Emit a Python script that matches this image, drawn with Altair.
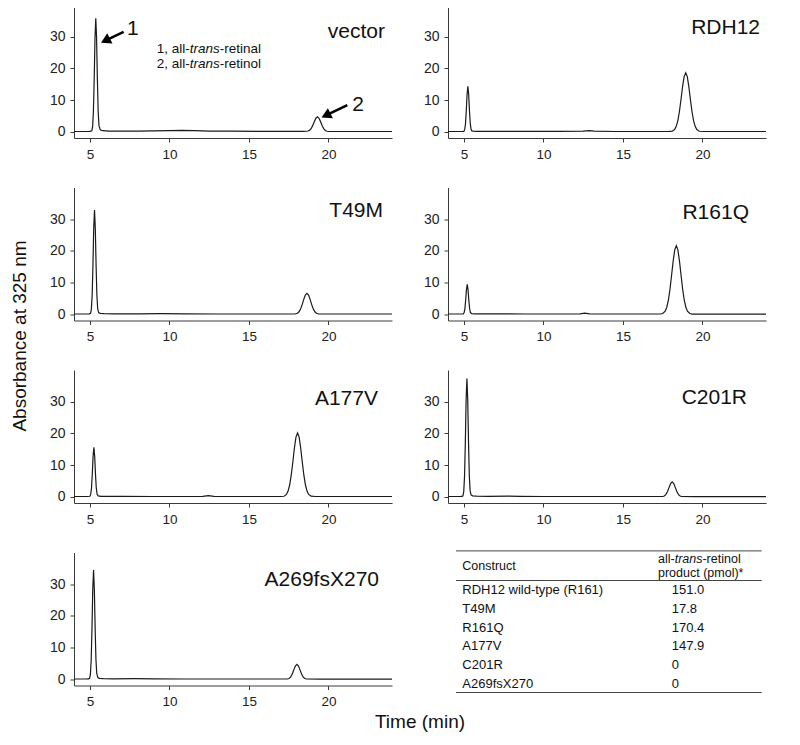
import altair as alt
import pandas as pd

FONT = "Liberation Sans, Arial, Helvetica, sans-serif"
W, H = 318, 133
X_DOMAIN = [4, 24]
Y_DOMAIN = [-2, 40]
X_TICKS = [5, 10, 15, 20]
Y_TICKS = [0, 10, 20, 30]

PANELS = ["vector", "RDH12", "T49M", "R161Q", "A177V", "C201R", "A269fsX270"]

# (time min, absorbance)
TRACE_VECTOR = [
    (4.0, 0.05), (4.6, 0.05), (5.0, 0.08), (5.12, 0.3), (5.17, 1.6), (5.22, 6.2), (5.27, 16.4),
    (5.32, 29.5), (5.37, 35.8), (5.42, 29.5), (5.47, 16.6), (5.52, 6.5), (5.57, 1.9), (5.65, 0.6),
    (5.8, 0.3), (6.2, 0.2), (7.0, 0.15), (8.0, 0.2), (9.0, 0.25), (10.0, 0.3), (10.8, 0.4),
    (11.6, 0.3), (12.5, 0.2), (14.0, 0.15), (16.0, 0.1), (17.5, 0.1), (18.4, 0.1), (18.6, 0.13),
    (18.71, 0.2), (18.81, 0.4), (18.91, 0.95), (19.01, 1.9), (19.11, 3.15), (19.21, 4.25),
    (19.31, 4.7), (19.41, 4.24), (19.51, 3.11), (19.61, 1.86), (19.71, 0.9), (19.81, 0.36),
    (19.91, 0.13), (20.01, 0.05), (20.3, 0.05), (21.5, 0.05), (23.0, 0.05), (24.0, 0.05),
]
TRACE_RDH12 = [
    (4.0, 0.05), (4.6, 0.05), (5.0, 0.11), (5.05, 0.63), (5.10, 2.5), (5.15, 6.5), (5.20, 11.8),
    (5.25, 14.3), (5.30, 11.8), (5.35, 6.6), (5.40, 2.6), (5.45, 0.75), (5.50, 0.25), (5.6, 0.15),
    (5.8, 0.1), (6.5, 0.08), (9.0, 0.1), (11.0, 0.1), (12.5, 0.15), (12.9, 0.3), (13.2, 0.15),
    (14.5, 0.05), (17.0, 0.05), (17.9, 0.07), (18.1, 0.13), (18.25, 0.65), (18.35, 1.6),
    (18.45, 3.35), (18.55, 6.2), (18.65, 10.0), (18.75, 14.1), (18.85, 17.4), (18.95, 18.6),
    (19.05, 17.4), (19.15, 14.1), (19.25, 10.0), (19.35, 6.2), (19.45, 3.35), (19.55, 1.6),
    (19.65, 0.65), (19.8, 0.13), (20.1, 0.05), (22.0, 0.05), (24.0, 0.05),
]
TRACE_T49M = [
    (4.0, 0.05), (4.7, 0.05), (4.95, 0.08), (5.04, 0.25), (5.09, 1.45), (5.14, 5.7), (5.19, 15.1),
    (5.24, 27.1), (5.29, 32.9), (5.34, 27.1), (5.39, 15.3), (5.44, 6.0), (5.49, 1.7), (5.55, 0.5),
    (5.65, 0.25), (5.9, 0.15), (6.5, 0.1), (8.0, 0.12), (9.5, 0.15), (11.0, 0.1), (13.0, 0.05),
    (15.0, 0.05), (17.0, 0.05), (17.9, 0.05), (18.05, 0.29), (18.15, 0.75), (18.25, 1.64),
    (18.35, 3.02), (18.45, 4.67), (18.55, 6.05), (18.65, 6.6), (18.75, 6.05), (18.85, 4.67),
    (18.95, 3.02), (19.05, 1.64), (19.15, 0.75), (19.25, 0.29), (19.4, 0.05), (20.0, 0.05),
    (22.0, 0.05), (24.0, 0.05),
]
TRACE_R161Q = [
    (4.0, 0.05), (4.7, 0.05), (4.96, 0.07), (5.01, 0.41), (5.06, 1.6), (5.11, 4.3), (5.16, 7.7),
    (5.21, 9.4), (5.26, 7.7), (5.31, 4.4), (5.36, 1.7), (5.41, 0.5), (5.5, 0.15), (5.7, 0.08),
    (6.5, 0.08), (7.0, 0.1), (9.0, 0.05), (11.0, 0.05), (12.3, 0.1), (12.6, 0.3), (12.9, 0.1),
    (14.5, 0.05), (16.5, 0.05), (17.36, 0.06), (17.51, 0.22), (17.66, 0.95), (17.76, 2.2),
    (17.86, 4.4), (17.96, 7.8), (18.06, 12.2), (18.16, 16.7), (18.26, 20.3), (18.36, 21.6),
    (18.46, 20.3), (18.56, 16.7), (18.66, 12.2), (18.76, 7.8), (18.86, 4.4), (18.96, 2.2),
    (19.06, 0.95), (19.21, 0.22), (19.36, 0.04), (20.0, 0.03), (22.0, 0.03), (24.0, 0.03),
]
TRACE_A177V = [
    (4.0, 0.05), (4.8, 0.05), (5.0, 0.12), (5.05, 0.7), (5.10, 2.7), (5.15, 7.1), (5.20, 12.8),
    (5.25, 15.6), (5.30, 12.8), (5.35, 7.2), (5.40, 2.8), (5.45, 0.85), (5.52, 0.25), (5.7, 0.12),
    (6.0, 0.1), (7.0, 0.08), (9.0, 0.05), (11.0, 0.05), (12.1, 0.1), (12.45, 0.3), (12.8, 0.1),
    (14.0, 0.05), (16.0, 0.05), (17.0, 0.05), (17.21, 0.14), (17.36, 0.7), (17.46, 1.7),
    (17.56, 3.6), (17.66, 6.7), (17.76, 10.8), (17.86, 15.3), (17.96, 18.8), (18.06, 20.1),
    (18.16, 18.8), (18.26, 15.3), (18.36, 10.8), (18.46, 6.7), (18.56, 3.6), (18.66, 1.7),
    (18.76, 0.7), (18.91, 0.14), (19.2, 0.05), (21.0, 0.05), (24.0, 0.05),
]
TRACE_C201R = [
    (4.0, 0.05), (4.7, 0.05), (4.88, 0.08), (4.94, 0.28), (4.99, 1.6), (5.04, 6.4), (5.09, 17.1),
    (5.14, 30.7), (5.19, 37.3), (5.24, 30.7), (5.29, 17.3), (5.34, 6.7), (5.39, 1.9), (5.45, 0.55),
    (5.55, 0.25), (5.8, 0.15), (6.5, 0.1), (7.8, 0.2), (8.5, 0.1), (10.0, 0.05), (12.0, 0.05),
    (14.0, 0.05), (16.0, 0.05), (17.3, 0.05), (17.5, 0.05), (17.6, 0.21), (17.7, 0.64),
    (17.8, 1.53), (17.9, 2.85), (18.0, 4.15), (18.1, 4.7), (18.2, 4.15), (18.3, 2.85),
    (18.4, 1.53), (18.5, 0.64), (18.6, 0.21), (18.7, 0.05), (19.5, 0.03), (22.0, 0.03),
    (24.0, 0.03),
]
TRACE_A269 = [
    (4.0, 0.05), (4.7, 0.05), (4.92, 0.08), (4.98, 0.26), (5.03, 1.5), (5.08, 5.9), (5.13, 15.8),
    (5.18, 28.4), (5.23, 34.5), (5.28, 28.4), (5.33, 16.0), (5.38, 6.2), (5.43, 1.8), (5.5, 0.5),
    (5.6, 0.25), (5.85, 0.15), (6.5, 0.1), (7.8, 0.15), (9.0, 0.1), (11.0, 0.05), (13.0, 0.05),
    (15.0, 0.05), (17.0, 0.05), (17.42, 0.05), (17.52, 0.21), (17.62, 0.64), (17.72, 1.53),
    (17.82, 2.85), (17.92, 4.15), (18.02, 4.7), (18.12, 4.15), (18.22, 2.85), (18.32, 1.53),
    (18.42, 0.64), (18.52, 0.21), (18.62, 0.05), (19.5, 0.03), (22.0, 0.03), (24.0, 0.03),
]

TRACES = {
    "vector": TRACE_VECTOR, "RDH12": TRACE_RDH12, "T49M": TRACE_T49M, "R161Q": TRACE_R161Q,
    "A177V": TRACE_A177V, "C201R": TRACE_C201R, "A269fsX270": TRACE_A269,
}

# panel label placement (right edge x, baseline y) in px within each panel
LABEL_POS = {
    "vector": (311, 33), "RDH12": (312, 29), "T49M": (309, 29), "R161Q": (301, 31),
    "A177V": (304, 35), "C201R": (299, 34), "A269fsX270": (305, 33),
}

# arrows in the vector panel: tail (t, a) -> head (ht, ha), head angle, number label
ARROW_NUM = ["1", "2"]
ARROW_TAIL_T = [7.12, 21.19]
ARROW_TAIL_A = [31.5, 8.4]
ARROW_HEAD_T = [6.07, 19.94]
ARROW_HEAD_A = [29.0, 5.36]
ARROW_ANGLE = [243, 244]
ARROW_LABEL_T = [7.7, 21.86]
ARROW_LABEL_A = [32.3, 8.5]

LEGEND_START = ["1, all-", "2, all-"]
LEGEND_END = ["-retinal", "-retinol"]
LEGEND_T = [9.21, 9.21]
LEGEND_A = [24.9, 20.1]

TABLE_CONSTRUCTS = ["RDH12 wild-type (R161)", "T49M", "R161Q", "A177V", "C201R", "A269fsX270"]
TABLE_PRODUCT = ["151.0", "17.8", "170.4", "147.9", "0", "0"]

INK = "#111111"


def X(field):
    return alt.X(f"{field}:Q", scale=alt.Scale(domain=X_DOMAIN, nice=False, zero=False),
                 axis=alt.Axis(values=X_TICKS, title=None, format="d", labelFontSize=13.5))


def Y(field):
    return alt.Y(f"{field}:Q", scale=alt.Scale(domain=Y_DOMAIN, nice=False, zero=False),
                 axis=alt.Axis(values=Y_TICKS, title=None, format="d", labelFontSize=14))


def text_layer(s, x, y, size, **kw):
    return alt.Chart(pd.DataFrame({"s": [s]})).mark_text(
        font=FONT, fontSize=size, color=INK, **kw
    ).encode(x=alt.value(x), y=alt.value(y), text="s:N")


def panel(name):
    df = pd.DataFrame(TRACES[name], columns=["t", "a"])
    line = alt.Chart(df).mark_line(color="#1a1a1a", strokeWidth=1.2).encode(
        x=X("t"), y=Y("a"), order="t:Q")
    lx, ly = LABEL_POS[name]
    layers = [line, text_layer(name, lx, ly, 21, align="right", baseline="alphabetic")]

    if name == "vector":
        adf = pd.DataFrame({"num": ARROW_NUM, "t": ARROW_TAIL_T, "a": ARROW_TAIL_A,
                            "ht": ARROW_HEAD_T, "ha": ARROW_HEAD_A, "ang": ARROW_ANGLE,
                            "lt": ARROW_LABEL_T, "la": ARROW_LABEL_A})
        base = alt.Chart(adf)
        layers.append(base.mark_rule(color="#000", strokeWidth=2.6).encode(
            x=X("t"), y=Y("a"), x2="ht:Q", y2="ha:Q"))
        layers.append(base.mark_point(shape="triangle", filled=True, size=130, color="#000",
                                      opacity=1).encode(
            x=X("ht"), y=Y("ha"), angle=alt.Angle("ang:Q", scale=None)))
        layers.append(base.mark_text(font=FONT, fontSize=21, color=INK, align="center",
                                     baseline="middle").encode(
            x=X("lt"), y=Y("la"), text="num:N"))
        ldf = pd.DataFrame({"s0": LEGEND_START, "s2": LEGEND_END, "t": LEGEND_T,
                            "a": LEGEND_A, "s1": ["trans", "trans"]})
        lb = alt.Chart(ldf)
        fs = 13.5
        layers.append(lb.mark_text(font=FONT, fontSize=fs, color=INK, align="left",
                                   baseline="alphabetic").encode(
            x=X("t"), y=Y("a"), text="s0:N"))
        layers.append(lb.mark_text(font=FONT, fontSize=fs, color=INK, align="left",
                                   baseline="alphabetic", fontStyle="italic",
                                   dx=2.445 * fs).encode(
            x=X("t"), y=Y("a"), text="s1:N"))
        layers.append(lb.mark_text(font=FONT, fontSize=fs, color=INK, align="left",
                                   baseline="alphabetic", dx=(2.445 + 2.223) * fs).encode(
            x=X("t"), y=Y("a"), text="s2:N"))

    if name == "T49M":
        layers.append(text_layer("Absorbance at 325 nm", -54, 148.5, 19, angle=270,
                                 align="center", baseline="middle"))
    if name == "A269fsX270":
        layers.append(text_layer("Time (min)", 346, 175, 19, align="center",
                                 baseline="alphabetic"))
    return alt.layer(*layers).properties(width=W, height=H)


def table_cell():
    tdf = pd.DataFrame({"idx": list(range(len(TABLE_CONSTRUCTS))),
                        "c": TABLE_CONSTRUCTS, "p": TABLE_PRODUCT})
    yrow = alt.Y("idx:Q", scale=alt.Scale(domain=[0, 5], range=[37.7, 131]), axis=None)
    tb = alt.Chart(tdf)
    layers = [
        tb.mark_text(font=FONT, fontSize=13, color=INK, align="left", baseline="middle").encode(
            x=alt.value(14.3), y=yrow, text="c:N"),
        tb.mark_text(font=FONT, fontSize=13, color=INK, align="left", baseline="middle").encode(
            x=alt.value(223.7), y=yrow, text="p:N"),
    ]
    for yy in [-1.6, 28, 140]:
        layers.append(alt.Chart(pd.DataFrame({"k": [0]})).mark_rule(
            color="#444", strokeWidth=1).encode(
            x=alt.value(8), x2=alt.value(313.7), y=alt.value(yy)))
    hs = 12.5
    layers.append(text_layer("Construct", 14.3, 13.4, hs, align="left", baseline="middle"))
    layers.append(text_layer("all-", 210, 6, hs, align="left", baseline="middle"))
    layers.append(text_layer("trans", 210 + 1.333 * hs, 6, hs, align="left",
                             baseline="middle", fontStyle="italic"))
    layers.append(text_layer("-retinol", 210 + (1.333 + 2.223) * hs, 6, hs, align="left",
                             baseline="middle"))
    layers.append(text_layer("product (pmol)*", 210, 20, hs, align="left", baseline="middle"))
    return alt.layer(*layers).properties(width=W, height=H)


cells = [panel(n) for n in PANELS] + [table_cell()]

chart = alt.concat(
    *cells, columns=2, spacing={"row": 49.5, "column": 56}, bounds="flush"
).properties(
    padding={"left": 3, "top": -3, "right": 5, "bottom": 5}
).configure_axis(
    domainColor="#3a3a3a", domainWidth=1, tickColor="#3a3a3a", tickSize=4, tickWidth=1,
    labelColor="#222222", labelFont=FONT, labelFontSize=13, labelPadding=5, grid=False,
).configure_view(stroke=None)

chart.save("out.html", embed_options={"renderer": "svg", "actions": False})
